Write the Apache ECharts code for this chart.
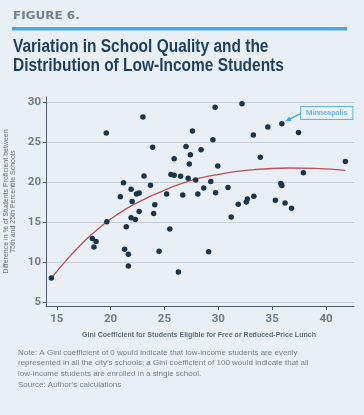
<!DOCTYPE html>
<html>
<head>
<meta charset="utf-8">
<script src="https://cdn.jsdelivr.net/npm/echarts@6/dist/echarts.min.js"></script>
<style>
html,body{margin:0;padding:0;background:#e9f0f5;}
#chart{width:364px;height:415px;}
</style>
</head>
<body>
<div id="chart"></div>
<script>
// Scatter: Gini coefficient (x) vs difference in % proficient (y)
const giniX = [14.5,19.6,23.0,23.9,27.6,27.0,27.4,27.3,25.9,21.2,23.1,25.6,25.9,26.5,27.2,27.9,23.7,21.9,20.9,22.4,22.65,22.0,25.2,26.7,28.1,24.1,24.0,22.65,21.9,22.3,19.65,21.45,18.3,18.65,18.45,25.5,21.3,21.65,21.65,24.5,26.3,29.7,32.2,29.5,28.4,29.95,29.3,28.65,29.75,30.9,31.85,31.2,32.6,32.7,33.3,33.9,33.25,34.6,35.9,37.45,37.9,41.8,35.8,35.9,35.3,36.2,36.8,29.1];
const diffY = [8.0,26.2,28.2,24.4,26.45,24.5,23.45,22.3,22.95,19.95,20.8,21.0,20.9,20.75,20.5,20.3,19.65,19.15,18.2,18.55,18.65,17.6,18.55,18.4,18.55,17.2,16.1,16.35,15.55,15.35,15.05,14.45,12.95,12.6,11.9,14.15,11.6,11.0,9.5,11.35,8.75,29.4,29.85,25.35,24.1,22.05,20.1,19.3,18.7,19.35,17.25,15.65,17.55,17.9,18.25,23.15,25.95,26.95,27.35,26.25,21.2,22.6,19.85,19.6,17.75,17.4,16.75,11.3];
// Fitted curve
const fitX = [14.5,15.9,17.1,18.3,19.7,21.4,23.3,24.2,26.7,29.8,33.4,36.5,39.0,41.8];
const fitY = [8.0,10.25,12.0,13.55,15.1,16.65,18.0,18.55,19.9,20.95,21.6,21.8,21.75,21.5];
// Tick labels
const xTicks = [15,20,25,30,35,40];
const yTicks = [5,10,15,20,25,30];
// Annotation
const calloutName = 'Minneapolis';
const calloutPoint = [35.9, 27.35];

const chart = echarts.init(document.getElementById('chart'), null, {renderer:'canvas'});
const scatterData = giniX.map((x,i)=>[x,diffY[i]]);
const fitData = fitX.map((x,i)=>[x,fitY[i]]);
const axisLabelColor = '#6d7c89';
const lab = 'Roboto,"Liberation Sans",sans-serif';

chart.setOption({
  backgroundColor:'#e9f0f5',
  animation:false,
  title:[
    {text:'Note: A Gini coefficient of 0 would indicate that low-income students are evenly\nrepresented in all the city\u2019s schools; a Gini coefficient of 100 would indicate that all\nlow-income students are enrolled in a single school.\nSource: Author\u2019s calculations',
     left:13, top:342,
     textStyle:{fontFamily:'"Liberation Sans",sans-serif', fontWeight:'normal', fontSize:8, lineHeight:10.7, color:'#77838e'}}
  ],
  graphic:[
    {type:'text', x:13, y:11, scaleX:1.2,
     style:{text:'FIGURE 6.', font:'bold 10px "DejaVu Sans", sans-serif', fill:'#6f7f8c'}},
    {type:'rect', x:12, y:27, shape:{width:335, height:3.5}, style:{fill:'#4ba8da'}},
    {type:'text', x:13, y:38, scaleX:0.86,
     style:{text:'Variation in School Quality and the\nDistribution of Low-Income Students',
            font:'bold 18px "Liberation Sans", sans-serif', lineHeight:18.5, fill:'#1e3f5d'}},
    {type:'text', x:199, y:331, scaleX:0.88,
     style:{text:'Gini Coefficient for Students Eligible for Free or Reduced-Price Lunch',
            font:'bold 8px "Liberation Sans", sans-serif', fill:'#5e6e7c', align:'center'}}
  ],
  grid:{left:46, right:10, top:97, bottom:109, containLabel:false, outerBoundsMode:'none'},
  xAxis:{
    type:'value', min:14, max:42.6,
    axisLine:{show:true, lineStyle:{color:'#4c6072', width:1}},
    axisTick:{show:true, length:4, customValues:xTicks, lineStyle:{color:'#4c6072'}},
    axisLabel:{customValues:xTicks, margin:7, fontFamily:lab, fontWeight:'bold', fontSize:11.5, color:axisLabelColor},
    splitLine:{show:false}
  },
  yAxis:{
    type:'value', min:4.5, max:30.7,
    name:'Difference in % of Students Proficient between\n75th and 25th Percentile Schools',
    nameLocation:'middle', nameGap:23, nameRotate:90,
    nameTextStyle:{fontFamily:'"Liberation Sans",sans-serif', fontWeight:'normal', fontSize:7, lineHeight:7.3, color:'#66717c'},
    axisLine:{show:true, lineStyle:{color:'#4c6072', width:1}},
    axisTick:{show:true, length:3, customValues:yTicks, lineStyle:{color:'#4c6072'}},
    axisLabel:{customValues:yTicks, margin:5, fontFamily:lab, fontWeight:'bold', fontSize:11.5, color:axisLabelColor},
    splitLine:{show:true, lineStyle:{color:'#c7d0d8', width:1}}
  },
  series:[
    {type:'line', data:fitData, smooth:0.5, symbol:'none', z:2,
     lineStyle:{color:'#bb4f5a', width:1.3}},
    {type:'scatter', data:scatterData, symbolSize:5.5, z:3,
     itemStyle:{color:'#1c3449', opacity:1}},
    {type:'scatter', data:[[40.07,28.7]], symbolSize:0, z:4, silent:true,
     label:{show:true, position:'inside', formatter:calloutName,
       fontFamily:lab, fontWeight:'bold', fontSize:7.5, color:'#4ba8da',
       borderColor:'#4ba8da', borderWidth:1, backgroundColor:'#eff5f9', padding:[2,5,2,5]},
     markLine:{silent:true, symbol:['none','triangle'], symbolSize:[5,6],
       lineStyle:{color:'#4ba8da', width:1.2, type:'solid'}, label:{show:false},
       data:[[{coord:[37.7,28.65]},{coord:[calloutPoint[0]+0.55, calloutPoint[1]+0.45]}]]}
    }
  ]
});
</script>
</body>
</html>
